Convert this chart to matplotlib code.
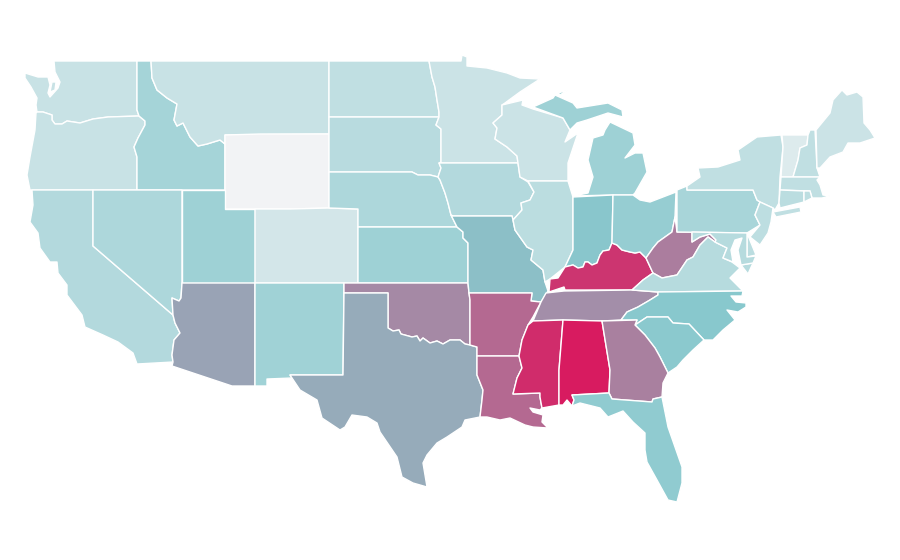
# US choropleth, state outlines traced by eye in picture pixels
import matplotlib
matplotlib.use("Agg")
import matplotlib.pyplot as plt
from matplotlib.collections import PolyCollection
from matplotlib.colors import LinearSegmentedColormap, Normalize

states = ["WA", "OR", "CA", "ID", "NV", "MT", "WY", "UT", "AZ", "CO", "NM", "ND", "SD", "NE", "KS",
          "OK", "TX", "MN", "IA", "MO", "AR", "LA", "WI", "IL", "MI", "IN", "KY", "TN", "MS", "AL",
          "OH", "WV", "VA", "NC", "SC", "GA", "FL", "PA", "NY", "VT", "NH", "ME", "MA", "CT", "RI",
          "NJ", "DE", "MD"]
rates = [16, 16, 24, 29, 26, 16, 0, 32, 53, 12, 31, 19, 22, 26, 32,
         62, 50, 15, 24, 43, 73, 73, 15, 21, 32, 41, 91, 60, 94, 100,
         35, 66, 23, 40, 39, 65, 37, 28, 19, 8, 19, 15, 19, 21, 20,
         20, 21, 23]

# shared borders, west to east / north to south
red_river = [(388, 328), (393, 331), (399, 330), (401, 334), (412, 337), (417, 336), (420, 341), (423, 338),
             (430, 343), (437, 341), (443, 344), (450, 340), (460, 340), (465, 344), (470, 345)]
ky_north = [(565, 267), (573, 265), (578, 268), (583, 267), (585, 262), (588, 262), (592, 265), (597, 263),
            (600, 255), (603, 251), (609, 250), (612, 243), (617, 245), (622, 250), (630, 252), (635, 253),
            (640, 252), (646, 258)]

outlines = {
    "WA": [[(54, 61), (137, 61), (137, 110), (139, 116), (108, 117), (93, 119), (80, 123), (67, 121), (62, 124),
            (55, 124), (52, 120), (52, 115), (43, 112), (37, 112), (36, 105), (37, 98), (31, 87), (25, 78),
            (25, 73), (38, 77), (48, 77), (50, 85), (48, 93), (50, 97), (58, 88), (60, 82), (55, 72)],
           [(52, 82), (56, 82), (55, 90), (50, 92)]],
    "OR": [[(37, 112), (43, 112), (52, 115), (52, 120), (55, 124), (62, 124), (67, 121), (80, 123), (93, 119),
            (108, 117), (139, 116), (145, 121), (145, 125), (138, 138), (134, 147), (137, 157), (137, 190),
            (30, 190), (27, 175), (30, 157), (35, 130), (36, 113)]],
    "CA": [[(32, 190), (93, 190), (93, 246), (173, 315), (175, 323), (180, 333), (174, 340), (172, 355),
            (173, 362), (137, 364), (133, 353), (118, 342), (103, 335), (85, 327), (82, 315), (67, 295),
            (67, 285), (58, 273), (57, 262), (50, 262), (40, 248), (38, 233), (30, 222), (33, 205)]],
    "ID": [[(137, 61), (151, 61), (152, 78), (157, 90), (167, 98), (177, 104), (174, 120), (177, 126), (183, 123),
            (190, 137), (198, 146), (207, 144), (220, 140), (225, 144), (225, 190), (137, 190), (137, 157),
            (134, 147), (138, 138), (145, 125), (145, 121), (139, 116), (137, 110)]],
    "NV": [[(93, 190), (182, 190), (182, 283), (181, 298), (179, 301), (172, 298), (173, 315), (93, 246)]],
    "MT": [[(151, 61), (329, 61), (329, 134), (225, 135), (225, 144), (220, 140), (207, 144), (198, 146),
            (190, 137), (183, 123), (177, 126), (174, 120), (177, 104), (167, 98), (157, 90), (152, 78)]],
    "WY": [[(225, 135), (260, 134), (329, 134), (329, 208), (290, 209), (225, 209)]],
    "UT": [[(182, 190), (225, 190), (225, 209), (255, 209), (255, 283), (182, 283)]],
    "AZ": [[(182, 283), (255, 283), (255, 386), (232, 386), (172, 366), (173, 362), (172, 355), (174, 340),
            (180, 333), (175, 323), (173, 315), (172, 298), (179, 301), (181, 298)]],
    "CO": [[(255, 209), (290, 209), (329, 208), (358, 209), (358, 283), (255, 283)]],
    "NM": [[(255, 283), (344, 283), (343, 375), (290, 375), (292, 378), (267, 379), (267, 386), (255, 386)]],
    "ND": [[(329, 61), (429, 61), (432, 77), (435, 87), (437, 100), (439, 112), (439, 117), (329, 117)]],
    "SD": [[(329, 117), (439, 117), (436, 125), (441, 129), (441, 162), (439, 163), (441, 168), (438, 177),
            (430, 175), (418, 175), (412, 172), (329, 172)]],
    "NE": [[(329, 172), (412, 172), (418, 175), (430, 175), (438, 177), (440, 180), (445, 193), (448, 203),
            (451, 215), (457, 227), (358, 227), (358, 209), (329, 208)]],
    "KS": [[(358, 227), (457, 227), (463, 232), (463, 238), (468, 243), (468, 283), (358, 283)]],
    "OK": [[(344, 283), (468, 283), (469, 293), (470, 300), (470, 345)] + red_river[::-1][1:] +
           [(388, 293), (344, 293)]],
    "TX": [[(344, 293), (388, 293)] + red_river +
           [(477, 347), (477, 375), (483, 390), (482, 400), (480, 417), (465, 420), (462, 427),
            (447, 437), (437, 443), (427, 455), (423, 463), (427, 487), (413, 483), (402, 477), (397, 457),
            (380, 432), (377, 423), (367, 417), (352, 415), (345, 427), (340, 430), (322, 418), (317, 400),
            (300, 390), (292, 378), (290, 375), (343, 375)]],
    "MN": [[(429, 61), (461, 61), (462, 55), (467, 57), (467, 66), (487, 68), (507, 73), (520, 78), (540, 79),
            (520, 92), (505, 103), (502, 105), (502, 115), (493, 123), (497, 128), (495, 139), (507, 147),
            (517, 156), (518, 163), (441, 163), (441, 129), (436, 125), (439, 117), (439, 112), (437, 100),
            (435, 87), (432, 77)]],
    "IA": [[(441, 163), (518, 163), (520, 177), (528, 182), (534, 192), (530, 200), (521, 203), (522, 210),
            (513, 220), (512, 216), (453, 216), (451, 215), (448, 203), (445, 193), (440, 180), (438, 177),
            (441, 168), (439, 163)]],
    "MO": [[(453, 216), (512, 216), (513, 220), (515, 230), (527, 247), (533, 250), (531, 260), (543, 270),
            (545, 282), (548, 291), (541, 302), (531, 301), (532, 293), (469, 293), (468, 283), (468, 243),
            (463, 238), (463, 232), (457, 227), (451, 215)]],
    "AR": [[(469, 293), (532, 293), (531, 301), (541, 302), (533, 317), (528, 325), (522, 340), (519, 356),
            (477, 356), (477, 347), (470, 345), (470, 300)]],
    "LA": [[(477, 356), (519, 356), (522, 368), (517, 378), (513, 394), (540, 393), (540, 397), (542, 408),
            (540, 410), (530, 408), (533, 412), (543, 415), (542, 422), (548, 428), (533, 427), (525, 425),
            (510, 418), (500, 420), (487, 417), (480, 417), (482, 400), (483, 390), (477, 375)]],
    "WI": [[(502, 105), (523, 100), (522, 105), (533, 109), (563, 118), (570, 130), (565, 142), (578, 133),
            (573, 148), (568, 163), (568, 181), (528, 181), (520, 177), (518, 163), (517, 156), (507, 147),
            (495, 139), (497, 128), (493, 123), (502, 115)]],
    "IL": [[(528, 181), (568, 181), (573, 197), (573, 250), (565, 267), (550, 279), (545, 282), (543, 270),
            (531, 260), (533, 250), (527, 247), (515, 230), (513, 220), (522, 210), (521, 203), (530, 200),
            (534, 192)]],
    "MI": [[(573, 196), (588, 193), (593, 177), (588, 160), (593, 138), (603, 135), (605, 130), (610, 122),
            (633, 133), (635, 145), (625, 158), (635, 153), (643, 153), (647, 172), (635, 193), (633, 195),
            (613, 195)],
           [(533, 107), (553, 98), (555, 95), (573, 103), (577, 108), (608, 103), (622, 110), (623, 117),
            (608, 113), (587, 120), (577, 123), (570, 130), (563, 118)],
           [(558, 93), (568, 90), (560, 95)]],
    "IN": [[(573, 197), (613, 195), (612, 243), (609, 250), (603, 251), (600, 255), (597, 263), (592, 265),
            (588, 262), (585, 262), (583, 267), (578, 268), (573, 265), (565, 267), (573, 250)]],
    "KY": [[(549, 292), (550, 279), (558, 278)] + ky_north +
           [(653, 273), (643, 280), (632, 290), (565, 290), (564, 287)]],
    "TN": [[(546, 293), (564, 291), (632, 290), (658, 292), (658, 295), (650, 300), (638, 307), (627, 312),
            (621, 320), (602, 321), (563, 320), (533, 321), (541, 302)]],
    "MS": [[(533, 321), (563, 320), (559, 370), (559, 405), (542, 408), (540, 397), (540, 393), (513, 394),
            (517, 378), (522, 368), (519, 356), (522, 340), (528, 325)]],
    "AL": [[(563, 320), (602, 321), (610, 370), (609, 393), (572, 395), (574, 400), (572, 406), (567, 400),
            (563, 405), (559, 405), (559, 370)]],
    "OH": [[(613, 195), (633, 195), (640, 200), (650, 202), (676, 192), (675, 217), (672, 232), (658, 242),
            (653, 248), (646, 258), (640, 252), (635, 253), (630, 252), (622, 250), (617, 245), (612, 243)]],
    "WV": [[(675, 217), (677, 232), (692, 232), (692, 242), (700, 237), (710, 234), (716, 240), (715, 242),
            (708, 237), (700, 245), (693, 257), (687, 260), (677, 275), (662, 278), (653, 273), (646, 258),
            (653, 248), (658, 242), (672, 232)]],
    "VA": [[(632, 290), (643, 280), (653, 273), (662, 278), (677, 275), (687, 260), (693, 257), (700, 245),
            (708, 237), (715, 242), (727, 248), (723, 258), (732, 262), (740, 268), (730, 278), (743, 291),
            (658, 292)],
           [(741, 265), (753, 263), (748, 274)]],
    "NC": [[(658, 292), (743, 291), (742, 296), (731, 296), (736, 302), (746, 303), (746, 307), (738, 312),
            (727, 310), (735, 320), (723, 330), (713, 340), (704, 340), (689, 324),
            (673, 323), (668, 317), (647, 317), (635, 325), (637, 320), (621, 320), (627, 312), (638, 307),
            (650, 300), (658, 295)]],
    "SC": [[(635, 325), (647, 317), (668, 317), (673, 323), (689, 324), (704, 340), (693, 350), (683, 360),
            (677, 367), (668, 373), (660, 357), (655, 348), (645, 335)]],
    "GA": [[(602, 321), (637, 320), (635, 325), (645, 335), (655, 348), (660, 357), (668, 373), (663, 383),
            (662, 397), (653, 399), (652, 402), (612, 399), (609, 393), (610, 370)]],
    "FL": [[(572, 395), (609, 393), (612, 399), (652, 402), (653, 399), (662, 397), (668, 427), (682, 467),
            (682, 483), (677, 502), (668, 500), (657, 480), (647, 462), (645, 450), (645, 433), (633, 422),
            (623, 411), (608, 417), (600, 408), (580, 403), (572, 406), (574, 400)]],
    "PA": [[(677, 232), (677, 190), (687, 186), (687, 190), (753, 190), (757, 200), (760, 202), (755, 215),
            (760, 225), (747, 233)]],
    "NY": [[(687, 190), (687, 186), (700, 177), (698, 168), (718, 167), (740, 160), (738, 150), (757, 137),
            (781, 135), (783, 147), (780, 177), (779, 203), (775, 210), (773, 208), (760, 202), (757, 200),
            (753, 190)],
           [(773, 212), (800, 207), (801, 212), (776, 217)]],
    "VT": [[(782, 135), (808, 135), (807, 145), (800, 148), (798, 160), (793, 177), (781, 177), (783, 147)]],
    "NH": [[(808, 135), (810, 130), (815, 130), (817, 168), (820, 177), (793, 177), (798, 160), (800, 148),
            (807, 145)]],
    "ME": [[(816, 130), (830, 113), (833, 100), (842, 90), (847, 95), (857, 92), (863, 97), (864, 123),
            (870, 130), (875, 138), (860, 143), (848, 143), (843, 152), (830, 157), (820, 168), (817, 168)]],
    "MA": [[(781, 177), (820, 177), (817, 180), (820, 185), (823, 195), (830, 196), (822, 198), (812, 198),
            (810, 191), (780, 190)]],
    "CT": [[(780, 190), (804, 191), (804, 202), (780, 208), (779, 203)]],
    "RI": [[(804, 191), (810, 191), (812, 198), (804, 202)]],
    "NJ": [[(760, 202), (773, 208), (771, 222), (768, 233), (760, 245), (750, 237), (760, 225), (755, 215)]],
    "DE": [[(747, 233), (756, 255), (747, 257)]],
    "MD": [[(692, 232), (747, 233), (747, 257), (756, 256), (753, 263), (741, 265), (738, 250), (742, 238),
            (735, 240), (731, 250), (733, 262), (723, 258), (727, 248), (715, 242), (716, 240), (710, 234),
            (700, 237), (692, 242)]],
}

# light grey -> teal -> crimson, teal sits at a rate of 40
rate_cmap = LinearSegmentedColormap.from_list(
    "rate", [(0.0, "#f2f3f5"), (0.4, "#88c8cd"), (1.0, "#d81b60")])

polys = []
poly_rates = []
for name, rate in zip(states, rates):
    for part in outlines[name]:
        polys.append(part)
        poly_rates.append(rate)

fig = plt.figure(figsize=(9, 5.6), dpi=100)
ax = fig.add_axes([0, 0, 1, 1])
coll = PolyCollection(polys, array=poly_rates, cmap=rate_cmap, norm=Normalize(0, 100),
                      edgecolor="white", linewidth=1.0)
ax.add_collection(coll)
ax.set_xlim(0, 900)
ax.set_ylim(560, 0)
ax.axis("off")

fig.savefig("out.png", dpi=100, facecolor="white")
